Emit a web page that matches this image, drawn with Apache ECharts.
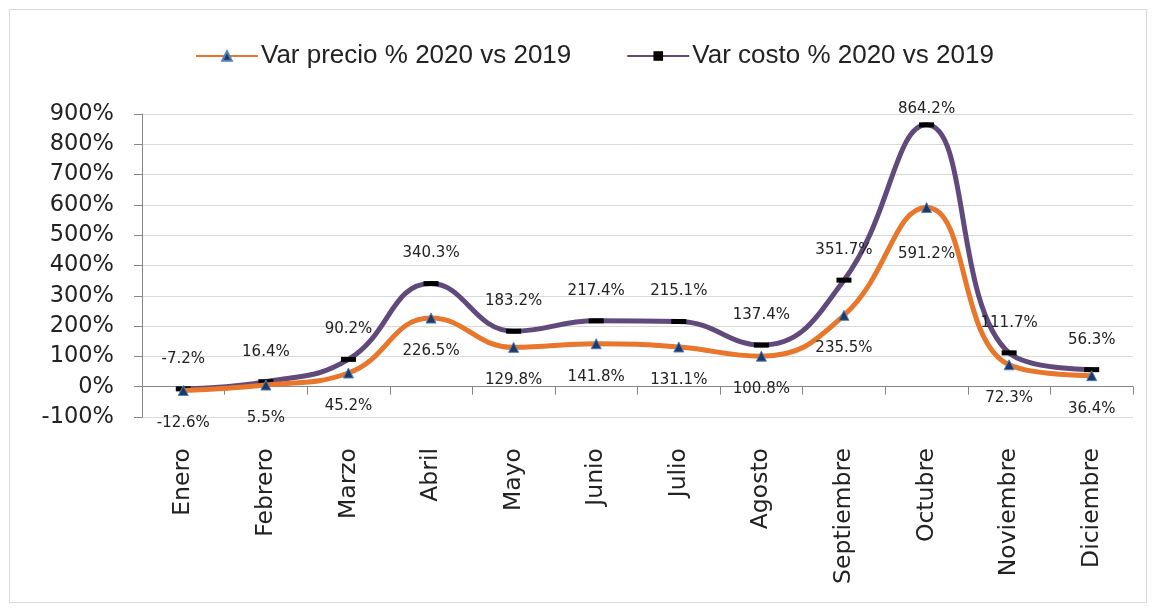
<!DOCTYPE html>
<html><head><meta charset="utf-8">
<script src="https://cdn.jsdelivr.net/npm/echarts@6/dist/echarts.min.js"></script>
<style>html,body{margin:0;padding:0;background:#fff}#c{width:1156px;height:612px}</style>
</head><body><div id="c"></div>
<script>
const months = ['Enero','Febrero','Marzo','Abril','Mayo','Junio','Julio','Agosto','Septiembre','Octubre','Noviembre','Diciembre'];
const precio = [-12.6, 5.5, 45.2, 226.5, 129.8, 141.8, 131.1, 100.8, 235.5, 591.2, 72.3, 36.4];
const costo = [-7.2, 16.4, 90.2, 340.3, 183.2, 217.4, 215.1, 137.4, 351.7, 864.2, 111.7, 56.3];
const seriesNames = ['Var precio % 2020 vs 2019', 'Var costo % 2020 vs 2019'];

const chart = echarts.init(document.getElementById('c'));
const labelFont = {fontFamily: 'DejaVu Sans', fontSize: 15, color: '#222'};
const precioDist = {9: 34};
const costoDist = {9: 6};
chart.setOption({
  animation: false,
  backgroundColor: '#fff',
  graphic: [{type: 'rect', shape: {x: 9.5, y: 9.5, width: 1137, height: 593}, style: {fill: 'none', stroke: '#d9d9d9', lineWidth: 1}}],
  legend: {
    top: 38, left: 190, itemGap: 55, itemWidth: 62, itemHeight: 12,
    textStyle: {fontFamily: 'Liberation Sans', fontSize: 26, color: '#222', padding: [0, 0, 0, -2]},
    data: seriesNames
  },
  grid: {left: 142, right: 23, top: 114, bottom: 195, containLabel: false},
  xAxis: [{
    type: 'category', data: months, position: 'bottom',
    axisLine: {show: false, onZero: false}, axisTick: {show: false},
    axisLabel: {rotate: 90, margin: 31, fontFamily: 'DejaVu Sans', fontSize: 23.5, color: '#222', interval: 0}
  }, {
    type: 'category', data: months, position: 'bottom',
    axisLine: {show: true, onZero: true, lineStyle: {color: '#868686', width: 1}},
    axisTick: {show: true, length: 8, inside: false, lineStyle: {color: '#868686'}},
    axisLabel: {show: false}
  }],
  yAxis: {
    type: 'value', min: -100, max: 900, interval: 100,
    axisLine: {show: true, lineStyle: {color: '#868686'}},
    axisTick: {show: true, length: 8, lineStyle: {color: '#868686'}},
    splitLine: {lineStyle: {color: '#d9d9d9'}},
    axisLabel: {formatter: '{value}%', fontFamily: 'DejaVu Sans', fontSize: 22.5, color: '#222', margin: 28}
  },
  series: [{
    name: seriesNames[0], type: 'line', smooth: 0.45, xAxisIndex: 0,
    data: precio.map((v, i) => precioDist[i] !== undefined ? {value: v, label: {distance: precioDist[i]}} : v),
    lineStyle: {color: '#E8762B', width: 5},
    itemStyle: {color: '#1F3864', borderColor: '#4F81BD', borderWidth: 1},
    symbol: 'triangle', symbolSize: 10,
    label: Object.assign({show: true, position: 'bottom', distance: 20, formatter: p => p.value.toFixed(1) + '%'}, labelFont),
    z: 3
  }, {
    name: seriesNames[1], type: 'line', smooth: 0.45, xAxisIndex: 0,
    data: costo.map((v, i) => costoDist[i] !== undefined ? {value: v, label: {distance: costoDist[i]}} : v),
    lineStyle: {color: '#604A7B', width: 5},
    itemStyle: {color: '#000'},
    symbol: 'rect', symbolSize: [15, 5],
    label: Object.assign({show: true, position: 'top', distance: 20, formatter: p => p.value.toFixed(1) + '%'}, labelFont),
    z: 2
  }]
});
</script></body></html>
